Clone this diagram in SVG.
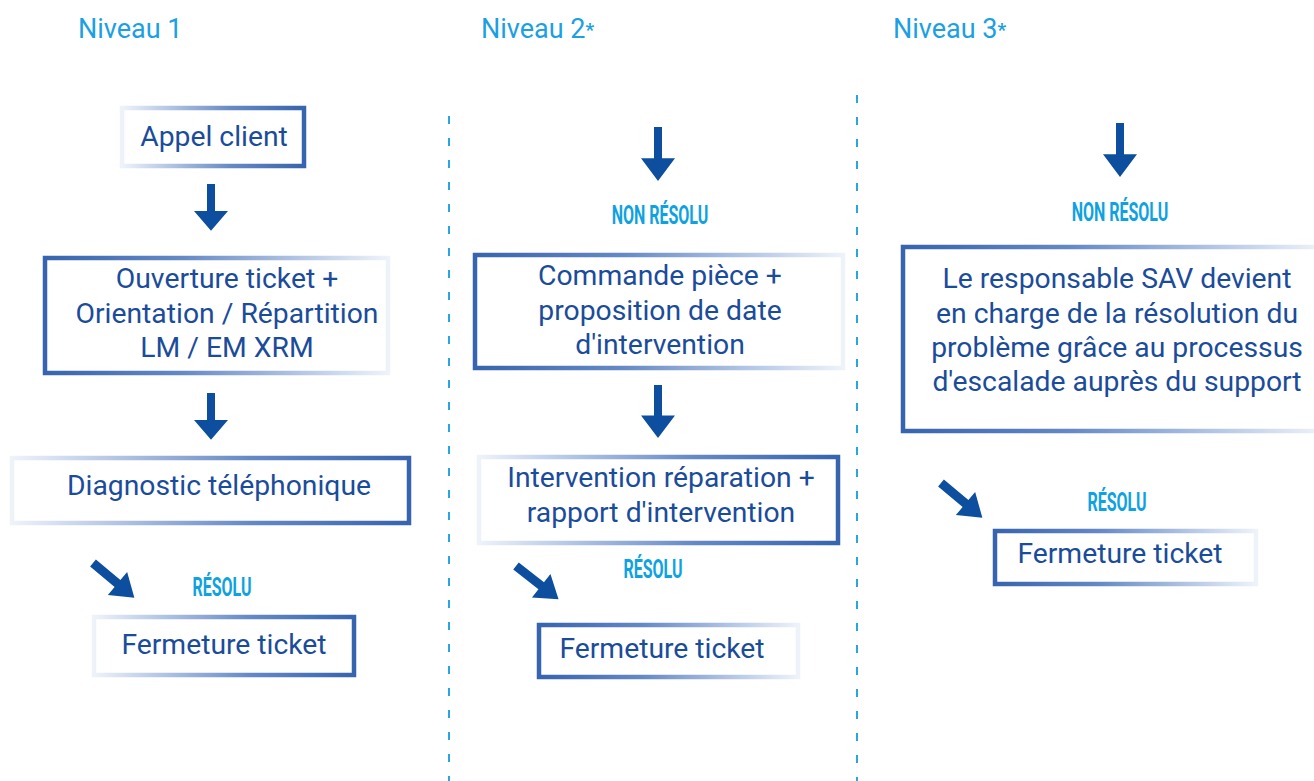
<svg xmlns="http://www.w3.org/2000/svg" width="1314" height="781" viewBox="0 0 1314 781">
<defs>
<linearGradient id="fadeL" x1="0" y1="0" x2="1" y2="0">
<stop offset="0" stop-color="#eef3fa"/>
<stop offset="0.2" stop-color="#c0d0e9"/>
<stop offset="0.6" stop-color="#6589c5"/>
<stop offset="1" stop-color="#3764ae"/>
</linearGradient>
<linearGradient id="fadeR" x1="1" y1="0" x2="0" y2="0">
<stop offset="0" stop-color="#eef3fa"/>
<stop offset="0.2" stop-color="#c0d0e9"/>
<stop offset="0.6" stop-color="#6589c5"/>
<stop offset="1" stop-color="#3764ae"/>
</linearGradient>
<path id="arrowDown" d="M-4,0 H4 V30 H17 L0,52 L-17,30 H-4 Z"/>
<path id="arrowDiag" d="M-4.5,0 H4.5 V32 H15 L0,54 L-15,32 H-4.5 Z"/>
<style>
.box{fill:#ffffff;stroke-width:4.5}
.fl{stroke:url(#fadeL)}
.fr{stroke:url(#fadeR)}
.t{font-family:Roboto,"Liberation Sans",sans-serif;font-size:28.3px;fill:#1a4c9b;text-anchor:middle}
.h{font-family:Roboto,"Liberation Sans",sans-serif;font-size:27px;fill:#1aa0e3}
.lab{font-family:Roboto,"Liberation Sans",sans-serif;font-weight:bold;font-size:25px;fill:#0ea2e2;text-anchor:middle}
.arr{fill:#0d4f9e}
.sep{stroke:#29a6e2;stroke-width:2;stroke-dasharray:8 14;fill:none}
</style>
</defs>
<rect width="1314" height="781" fill="#ffffff"/>

<g id="headings">
<text class="h" x="78" y="38">Niveau 1</text>
<text class="h" x="481" y="38">Niveau 2<tspan font-size="19" font-weight="bold" dy="-2">*</tspan></text>
<text class="h" x="893" y="38">Niveau 3<tspan font-size="19" font-weight="bold" dy="-2">*</tspan></text>
</g>

<g id="separators">
<line class="sep" x1="449" y1="116" x2="449" y2="781"/>
<line class="sep" x1="857" y1="95" x2="857" y2="781"/>
</g>

<g id="connectors">
<use href="#arrowDown" class="arr" transform="translate(211,184) scale(1,0.9)"/>
<use href="#arrowDown" class="arr" transform="translate(211,393) scale(1,0.9)"/>
<use href="#arrowDiag" class="arr" transform="translate(93,563) rotate(-50)"/>
<use href="#arrowDown" class="arr" transform="translate(658,127) scale(1,1.04)"/>
<use href="#arrowDown" class="arr" transform="translate(658,385) scale(1,1.02)"/>
<use href="#arrowDiag" class="arr" transform="translate(516,566) rotate(-52)"/>
<use href="#arrowDown" class="arr" transform="translate(1120,123) scale(1,1.04)"/>
<use href="#arrowDiag" class="arr" transform="translate(941,483) rotate(-50)"/>
</g>

<g id="labels">
<text class="lab" transform="translate(222,596) scale(0.64,1)">RÉSOLU</text>
<text class="lab" transform="translate(660,224) scale(0.64,1)">NON RÉSOLU</text>
<text class="lab" transform="translate(653,578) scale(0.64,1)">RÉSOLU</text>
<text class="lab" transform="translate(1120,221) scale(0.64,1)">NON RÉSOLU</text>
<text class="lab" transform="translate(1117,511) scale(0.64,1)">RÉSOLU</text>
</g>

<g id="appel-client">
<rect class="box fl" x="122" y="108" width="182" height="58"/>
<text class="t" x="214" y="146">Appel client</text>
</g>

<g id="ouverture-ticket">
<rect class="box fr" x="45" y="258" width="343" height="115"/>
<text class="t" x="227" y="288">Ouverture ticket +</text>
<text class="t" x="227" y="323">Orientation / Répartition</text>
<text class="t" x="227" y="357">LM / EM XRM</text>
</g>

<g id="diagnostic">
<rect class="box fl" x="12" y="458" width="397" height="65"/>
<text class="t" x="219" y="495">Diagnostic téléphonique</text>
</g>

<g id="fermeture-1">
<rect class="box fl" x="94" y="617" width="260" height="58"/>
<text class="t" x="224" y="654">Fermeture ticket</text>
</g>

<g id="commande-piece">
<rect class="box fr" x="475" y="255" width="368" height="113"/>
<text class="t" x="660" y="285">Commande pièce +</text>
<text class="t" x="660" y="320">proposition de date</text>
<text class="t" x="660" y="354">d'intervention</text>
</g>

<g id="intervention">
<rect class="box fl" x="479" y="457" width="359" height="86"/>
<text class="t" x="661" y="487">Intervention réparation +</text>
<text class="t" x="661" y="522">rapport d'intervention</text>
</g>

<g id="fermeture-2">
<rect class="box fr" x="539" y="625" width="259" height="52"/>
<text class="t" x="662" y="658">Fermeture ticket</text>
</g>

<g id="responsable-sav">
<rect class="box fr" x="903" y="247" width="420" height="184"/>
<text class="t" x="1117" y="288">Le responsable SAV devient</text>
<text class="t" x="1117" y="323">en charge de la résolution du</text>
<text class="t" x="1117" y="357">problème grâce au processus</text>
<text class="t" x="1117" y="391">d'escalade auprès du support</text>
</g>

<g id="fermeture-3">
<rect class="box fr" x="995" y="531" width="261" height="53"/>
<text class="t" x="1120" y="563">Fermeture ticket</text>
</g>
</svg>
